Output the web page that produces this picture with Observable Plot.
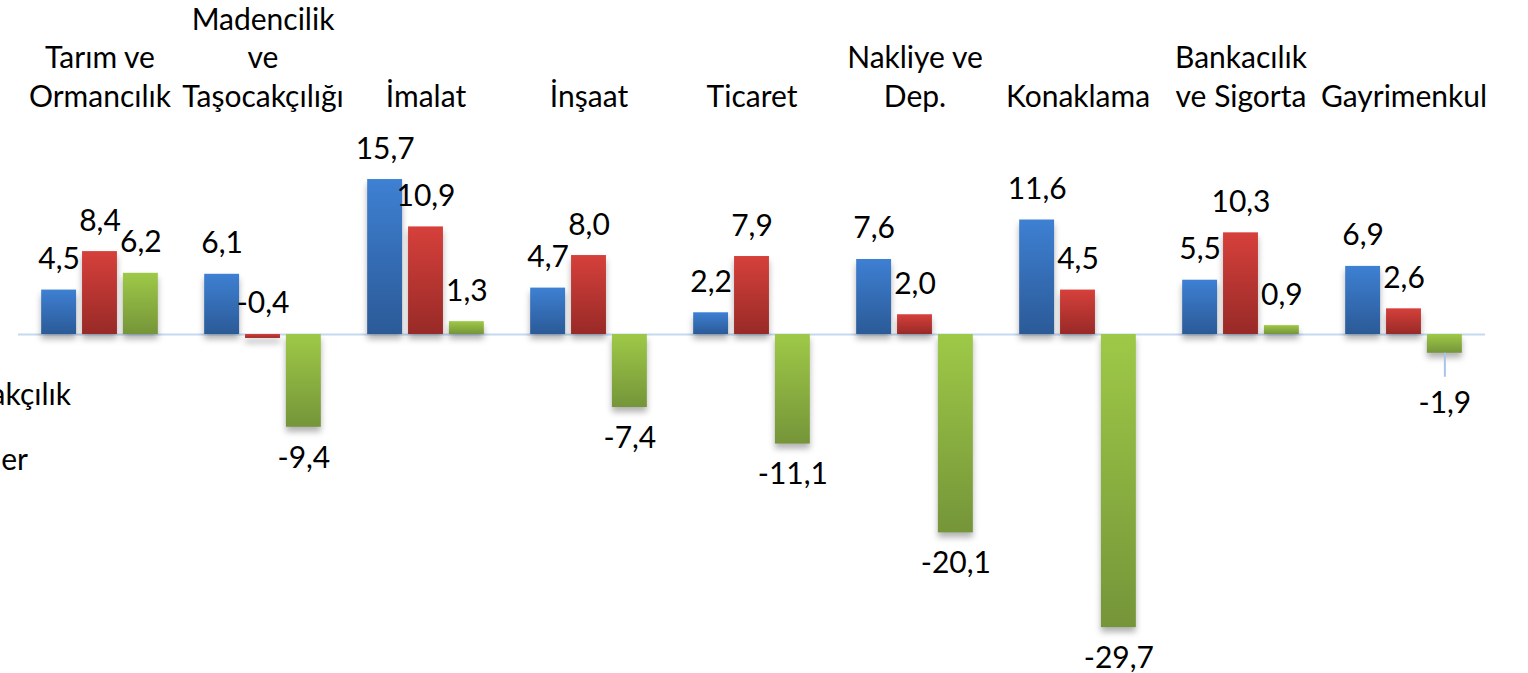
<!DOCTYPE html>
<html><head><meta charset="utf-8">
<script src="https://cdn.jsdelivr.net/npm/d3@7"></script>
<script src="https://cdn.jsdelivr.net/npm/@observablehq/plot@0.6"></script>
<style>html,body{margin:0;padding:0;background:#fff;overflow:hidden;}</style>
</head><body><div id="chart"></div>
<script>
// ---- data ----
const categories = ["Tarım ve\nOrmancılık", "Madencilik\nve\nTaşocakçılığı", "İmalat", "İnşaat", "Ticaret", "Nakliye ve\nDep.", "Konaklama", "Bankacılık\nve Sigorta", "Gayrimenkul"];
const seriesNames = ["Seri 1", "Seri 2", "Seri 3"];
const blueValues  = [4.5, 6.1, 15.7, 4.7, 2.2, 7.6, 11.6, 5.5, 6.9];
const redValues   = [8.4, -0.4, 10.9, 8.0, 7.9, 2.0, 4.5, 10.3, 2.6];
const greenValues = [6.2, -9.4, 1.3, -7.4, -11.1, -20.1, -29.7, 0.9, -1.9];
const legendFragments = ["akçılık", "ler"];

// ---- styles ----
const gradients = [
  {id: "gBlue",  top: "#3e80d3", bottom: "#2b5a97"},
  {id: "gRed",   top: "#d6403b", bottom: "#982a27"},
  {id: "gGreen", top: "#9ec947", bottom: "#759539"}
];

const allSeries = [blueValues, redValues, greenValues];
const data = [];
categories.forEach((c, i) => {
  allSeries.forEach((vals, s) => {
    data.push({cat: c, series: seriesNames[s], value: vals[i], fill: `url(#${gradients[s].id})`});
  });
});
const fmt = v => d3.format(".1f")(v).replace(".", ",").replace("\u2212", "-");

const above = data.filter(d => d.value > -1);
const below = data.filter(d => d.value <= -3);
const belowSmall = data.filter(d => d.value <= -1 && d.value > -3);

const FONT = "Lato, 'Open Sans', sans-serif";

const chart = Plot.plot({
  width: 1528,
  height: 673,
  marginTop: 130,
  marginBottom: 0,
  marginLeft: 15,
  marginRight: 41,
  style: {fontFamily: FONT, fontSize: "30px", color: "#000", background: "#fff"},
  fx: {domain: categories, padding: 0, label: null, axis: null},
  x: {domain: seriesNames, paddingInner: 0.146, paddingOuter: 0.567, round: false, axis: null},
  y: {domain: [-34.35, 20.67], axis: null},
  color: {type: "identity"},
  marks: [
    Plot.axisFx({anchor: "top", tickSize: 0, tickPadding: 24, label: null, fontSize: 30, lineHeight: 1.28, fill: "#000"}),
    Plot.ruleY([0], {stroke: "#c6d9f0", strokeWidth: 2}),
    Plot.barY(data, {fx: "cat", x: "series", y: "value", fill: "fill",
      imageFilter: "drop-shadow(0px 5px 3px rgba(0,0,0,0.30))"}),
    Plot.ruleX(belowSmall, {fx: "cat", x: "series", y1: "value", y2: "value", insetBottom: -24, stroke: "#a9c4e8", strokeWidth: 2}),
    Plot.text(above, {fx: "cat", x: "series", y: d => Math.max(d.value, 0), text: d => fmt(d.value),
      lineAnchor: "bottom", dy: -21, fill: "#000"}),
    Plot.text(below, {fx: "cat", x: "series", y: "value", text: d => fmt(d.value),
      lineAnchor: "top", dy: 19, fill: "#000"}),
    Plot.text(belowSmall, {fx: "cat", x: "series", y: "value", text: d => fmt(d.value),
      lineAnchor: "top", dy: 38, fill: "#000"})
  ]
});

const svg = d3.select(chart);
const defs = svg.insert("defs", ":first-child");
gradients.forEach(g => {
  const lg = defs.append("linearGradient").attr("id", g.id)
    .attr("x1", 0).attr("y1", 0).attr("x2", 0).attr("y2", 1);
  lg.append("stop").attr("offset", "0%").attr("stop-color", g.top);
  lg.append("stop").attr("offset", "100%").attr("stop-color", g.bottom);
});
// cut-off legend fragments at the left edge, as in the reference
const frag = svg.append("g").attr("font-family", FONT).attr("font-size", 30).attr("fill", "#000").attr("text-anchor", "end");
frag.append("text").attr("x", 71).attr("y", 405).text(legendFragments[0]);
frag.append("text").attr("x", 28).attr("y", 470).text(legendFragments[1]);

document.getElementById("chart").appendChild(chart);
</script>
</body></html>
